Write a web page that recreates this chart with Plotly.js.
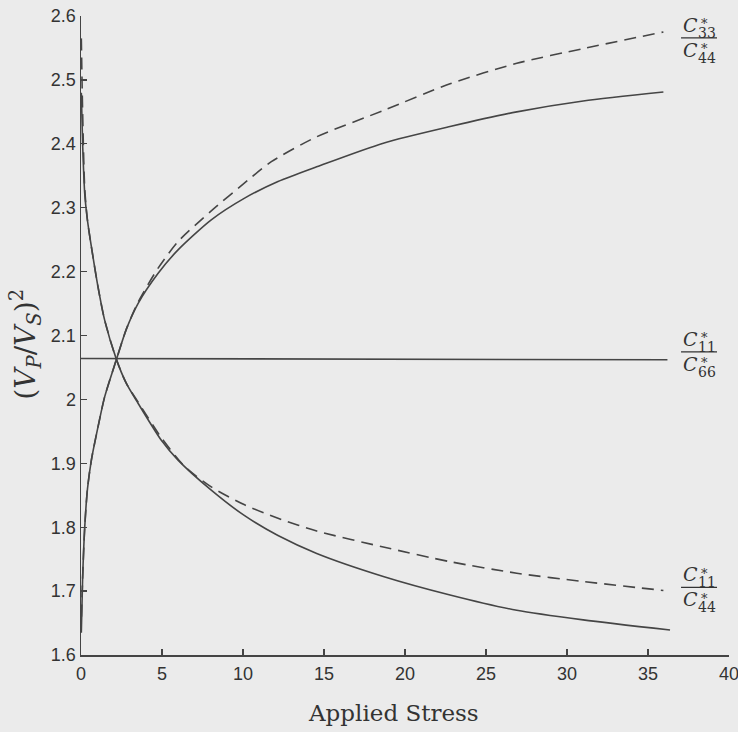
<!DOCTYPE html>
<html>
<head>
<meta charset="utf-8">
<script src="https://cdn.plot.ly/plotly-3.0.1.min.js"></script>
<style>
html,body{margin:0;padding:0;background:#ebebeb;}
#chart{width:738px;height:732px;}
</style>
</head>
<body>
<div id="chart"></div>
<script>
// C33*/C44* solid
var c33Solid_x = [0.02, 0.1, 0.23, 0.4, 0.64, 1.05, 1.46, 2.18, 2.8, 3.52, 4.75, 5.99, 8.04, 10.1, 12.16, 14.55, 18.66, 22.78, 26.9, 31.0, 35.95];
var c33Solid_y = [1.635, 1.72, 1.80, 1.86, 1.905, 1.957, 2.004, 2.062, 2.11, 2.150, 2.197, 2.234, 2.281, 2.315, 2.341, 2.364, 2.401, 2.427, 2.450, 2.467, 2.481];
// C33*/C44* dashed
var c33Dash_x = [0.03, 0.1, 0.23, 0.4, 0.64, 1.05, 1.46, 2.18, 2.8, 3.52, 4.75, 5.99, 8.04, 10.3, 11.75, 14.55, 18.66, 22.78, 26.9, 31.0, 35.95];
var c33Dash_y = [1.66, 1.72, 1.80, 1.86, 1.905, 1.957, 2.004, 2.062, 2.11, 2.152, 2.205, 2.247, 2.295, 2.343, 2.372, 2.411, 2.452, 2.494, 2.526, 2.549, 2.575];
// C11*/C44* solid
var c11Solid_x = [0.02, 0.1, 0.23, 0.4, 0.64, 1.05, 1.46, 2.18, 2.8, 3.52, 4.96, 5.99, 8.04, 10.1, 12.16, 14.55, 18.66, 22.78, 26.9, 31.0, 36.36];
var c11Solid_y = [2.48, 2.40, 2.322, 2.28, 2.239, 2.176, 2.124, 2.063, 2.025, 1.994, 1.936, 1.905, 1.858, 1.818, 1.787, 1.759, 1.723, 1.694, 1.670, 1.655, 1.639];
// C11*/C44* dashed
var c11Dash_x = [0.02, 0.1, 0.23, 0.4, 0.64, 1.05, 1.46, 2.18, 2.8, 3.52, 4.96, 6.4, 8.04, 10.1, 12.16, 14.55, 18.66, 22.78, 26.9, 31.0, 35.95];
var c11Dash_y = [2.565, 2.45, 2.33, 2.28, 2.239, 2.176, 2.124, 2.063, 2.025, 1.996, 1.940, 1.895, 1.863, 1.835, 1.814, 1.794, 1.769, 1.746, 1.728, 1.715, 1.701];
// C11*/C66* (flat)
var c66_x = [0, 36.2];
var c66_y = [2.064, 2.062];

// label texts
var labelNum = ['33', '11', '11'];
var labelDen = ['44', '66', '44'];
var labelYs = [c33Dash_y[c33Dash_y.length-1], c66_y[c66_y.length-1], c11Dash_y[c11Dash_y.length-1]];
var labelYShift = [-6, 8, 3];

var xTitle = 'Applied Stress';
var yTitle = '(<i>V</i><sub><i>P</i></sub>/<i>V</i><sub><i>S</i></sub>)<sup>2</sup>';

var lineColor = '#454545';
function tr(x, y, dash) {
  return {x: x, y: y, type: 'scatter', mode: 'lines', hoverinfo: 'skip',
    line: {color: lineColor, width: 1.6, dash: dash, shape: 'spline', smoothing: 0.7}};
}
var data = [
  tr(c33Solid_x, c33Solid_y, 'solid'),
  tr(c33Dash_x, c33Dash_y, '12px,7px'),
  tr(c11Solid_x, c11Solid_y, 'solid'),
  tr(c11Dash_x, c11Dash_y, '12px,7px'),
  tr(c66_x, c66_y, 'solid')
];

var serif = 'DejaVu Serif, Liberation Serif, serif';
var annotations = [];
var shapes = [];
var labelX = 38.15;
for (var i = 0; i < labelNum.length; i++) {
  var yv = labelYs[i];
  var ys = labelYShift[i];
  shapes.push({type: 'line', xref: 'x', yref: 'y', xsizemode: 'pixel', ysizemode: 'pixel',
    xanchor: labelX, yanchor: yv, x0: -18, x1: 18, y0: ys, y1: ys,
    line: {color: '#333', width: 1.3}});
  var base = {xref: 'x', yref: 'y', x: labelX, y: yv, showarrow: false,
    xanchor: 'center', yanchor: 'middle', font: {family: serif, color: '#333'}};
  function add(text, dx, dy, size) {
    var a = JSON.parse(JSON.stringify(base));
    a.text = text; a.xshift = dx; a.yshift = ys + dy; a.font.size = size;
    annotations.push(a);
  }
  add('<i>C</i>', -9, 13, 19);
  add('*', 5, 14, 13);
  add(labelNum[i], 8, 5, 14);
  add('<i>C</i>', -9, -12, 19);
  add('*', 5, -11, 13);
  add(labelDen[i], 8, -20, 14);
}
annotations.push({xref: 'paper', yref: 'paper', x: 0.483, y: -0.091, xanchor: 'center', yanchor: 'middle',
  showarrow: false, text: xTitle, font: {family: serif, size: 23, color: '#333'}});
annotations.push({xref: 'paper', yref: 'paper', x: -0.085, y: 0.487, xanchor: 'center', yanchor: 'middle',
  textangle: -90, showarrow: false, text: yTitle, font: {family: serif, size: 28, color: '#333'}});

var tickFont = {family: 'Liberation Sans, Arial, sans-serif', size: 18, color: '#333'};
var layout = {
  width: 738, height: 732,
  margin: {l: 81, r: 9, t: 16, b: 77},
  paper_bgcolor: '#ebebeb', plot_bgcolor: '#ebebeb',
  showlegend: false,
  xaxis: {range: [0, 40], dtick: 5, tick0: 0, ticks: 'inside', ticklen: 6, tickwidth: 1.2,
    tickcolor: '#444', showline: true, linecolor: '#444', linewidth: 1.5,
    showgrid: false, zeroline: false, tickfont: tickFont, ticklabelstandoff: 2,
    ticklabeloverflow: 'allow'},
  yaxis: {range: [1.6, 2.6], dtick: 0.1, tick0: 1.6, ticks: 'inside', ticklen: 6, tickwidth: 1.2,
    tickcolor: '#444', showline: true, linecolor: '#444', linewidth: 1.5,
    showgrid: false, zeroline: false, tickfont: tickFont, ticklabelstandoff: 0,
    ticklabeloverflow: 'allow'},
  annotations: annotations,
  shapes: shapes
};
Plotly.newPlot('chart', data, layout, {displayModeBar: false, staticPlot: true});
</script>
</body>
</html>
